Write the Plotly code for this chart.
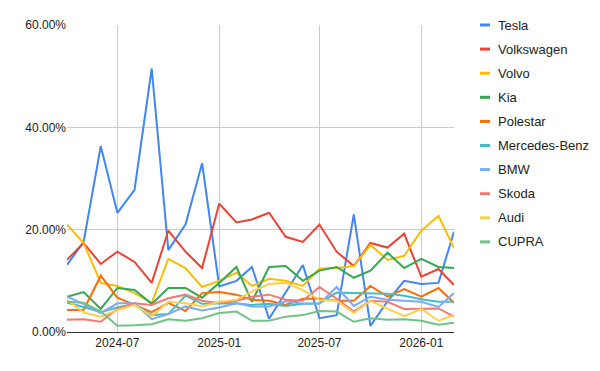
import plotly.graph_objects as go
import pandas as pd

months = pd.date_range("2024-04-01", "2026-03-01", freq="MS")

brands = ["Tesla", "Volkswagen", "Volvo", "Kia", "Polestar",
          "Mercedes-Benz", "BMW", "Skoda", "Audi", "CUPRA"]

tesla = [13.1, 17.6, 36.3, 23.3, 27.8, 51.5, 16.0, 21.0, 33.0, 8.9, 10.0, 12.7,
         2.6, 7.8, 13.1, 2.7, 3.3, 23.0, 1.2, 6.0, 10.0, 9.4, 9.6, 19.6]
volkswagen = [14.1, 17.4, 13.3, 15.7, 13.7, 9.6, 19.8, 15.7, 12.5, 25.1, 21.4, 22.0,
              23.3, 18.6, 17.6, 21.0, 15.7, 12.9, 17.4, 16.5, 19.2, 10.8, 12.3, 9.2]
volvo = [21.0, 17.4, 9.6, 9.0, 7.6, 5.7, 14.3, 12.5, 8.8, 10.0, 11.6, 9.0,
         10.4, 10.0, 9.0, 12.4, 12.5, 12.9, 17.0, 14.1, 14.9, 19.8, 22.7, 16.4]
kia = [6.9, 7.8, 4.5, 8.6, 8.2, 5.5, 8.6, 8.6, 6.7, 9.6, 12.7, 5.9,
       12.7, 12.9, 10.0, 12.0, 12.7, 10.6, 12.0, 15.5, 12.5, 14.3, 12.7, 12.5]
polestar = [4.3, 4.3, 11.0, 6.7, 5.3, 3.9, 5.7, 4.1, 7.6, 7.8, 7.3, 6.3,
            6.1, 5.3, 6.5, 6.5, 6.1, 6.1, 9.0, 6.9, 8.4, 6.9, 8.6, 5.7]
mercedes = [5.7, 4.9, 3.9, 4.8, 5.5, 3.3, 3.5, 7.1, 5.5, 5.5, 5.6, 5.3,
            5.5, 5.1, 5.5, 5.6, 7.7, 7.6, 7.6, 7.5, 7.1, 6.4, 5.9, 5.9]
bmw = [6.9, 5.5, 3.7, 5.6, 5.6, 2.5, 3.5, 5.0, 4.2, 4.8, 5.6, 5.0,
       5.0, 6.0, 5.5, 5.5, 8.8, 5.1, 6.9, 6.3, 6.1, 5.9, 4.9, 7.6]
skoda = [2.4, 2.5, 2.0, 4.5, 5.6, 5.3, 6.6, 7.3, 6.1, 5.6, 6.1, 6.9,
         7.3, 6.3, 6.1, 8.8, 6.5, 4.0, 6.1, 5.9, 4.5, 4.5, 4.6, 3.0]
audi = [6.3, 3.8, 3.0, 4.3, 5.3, 3.1, 5.9, 5.6, 5.0, 5.9, 6.3, 7.9,
        9.4, 9.6, 8.2, 6.3, 6.1, 3.7, 6.1, 4.6, 3.1, 4.5, 2.2, 3.3]
cupra = [5.9, 5.7, 4.0, 1.2, 1.3, 1.5, 2.5, 2.2, 2.7, 3.7, 4.0, 2.2,
         2.2, 3.0, 3.3, 4.1, 4.0, 2.0, 2.7, 2.4, 2.5, 2.2, 1.4, 1.8]

series = [tesla, volkswagen, volvo, kia, polestar, mercedes, bmw, skoda, audi, cupra]
colors = ["#4285F4", "#EA4335", "#FBBC04", "#34A853", "#FF6D01",
          "#46BDC6", "#7BAAF7", "#F07B72", "#FCD04F", "#71C287"]

y_ticks = [0, 0.2, 0.4, 0.6]

W, H = 600, 371
L, R, T, B = 67, 146, 25, 39
pw, ph = W - L - R, H - T - B

fig = go.Figure()
for name, vals, col in zip(brands, series, colors):
    fig.add_trace(go.Scatter(
        x=months, y=[v / 100 for v in vals], name=name, mode="lines",
        line=dict(color=col, width=2), showlegend=False))

# manual legend (Google-Charts-like short swatches)
shapes = []
annotations = []
for k, (name, col) in enumerate(zip(brands, colors)):
    py = 25 + k * 24.1
    yp = (H - B - py) / ph
    x0 = (480 - L) / pw
    x1 = (490 - L) / pw
    shapes.append(dict(type="line", xref="paper", yref="paper", x0=x0, x1=x1,
                       y0=yp, y1=yp, line=dict(color=col, width=3)))
    annotations.append(dict(xref="paper", yref="paper", x=(496 - L) / pw, y=yp,
                            text=name, showarrow=False, xanchor="left", yanchor="middle",
                            font=dict(size=13, color="#222222", family="Liberation Sans, Arial")))

fig.update_layout(
    width=W, height=H,
    margin=dict(l=L, r=R, t=T, b=B, pad=0),
    paper_bgcolor="white", plot_bgcolor="white",
    font=dict(family="Liberation Sans, Arial", size=12, color="#222222"),
    shapes=shapes, annotations=annotations,
    xaxis=dict(range=[months[0], months[-1]], tickformat="%Y-%m", dtick="M6",
               tick0="2024-07-01", showgrid=True, gridcolor="#cccccc", gridwidth=1,
               showline=True, linecolor="#333333", linewidth=1, ticks="",
               zeroline=False, tickfont=dict(size=12, color="#222222")),
    yaxis=dict(range=[0, 0.6], tickvals=y_ticks, tickformat=".2%",
               showgrid=True, gridcolor="#cccccc", gridwidth=1, zeroline=False,
               showline=False, ticks="", tickfont=dict(size=12, color="#222222")),
)

fig.write_html("out.html")
